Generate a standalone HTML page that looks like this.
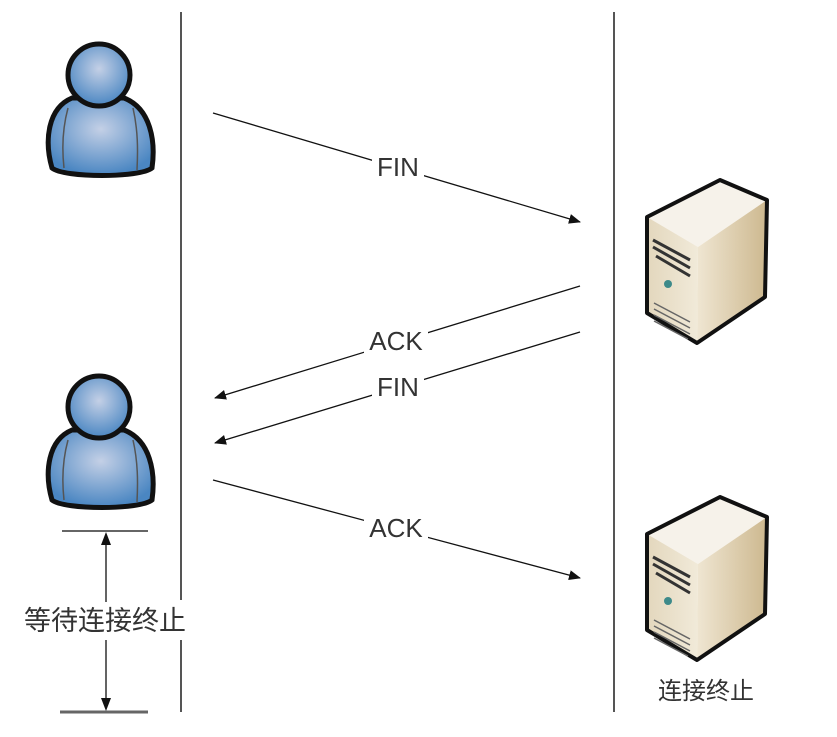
<!DOCTYPE html>
<html><head><meta charset="utf-8"><style>
html,body{margin:0;padding:0;background:#fff;}
svg{display:block;}
text{font-family:"Liberation Sans","Noto Sans CJK SC",sans-serif;fill:#333;}
</style></head><body>
<svg width="837" height="737" viewBox="0 0 837 737" xmlns="http://www.w3.org/2000/svg">
<defs>
<radialGradient id="pb" cx="50%" cy="40%" r="60%">
<stop offset="0" stop-color="#c4d0e6"/><stop offset="1" stop-color="#4a86c2"/></radialGradient>
<linearGradient id="sf" x1="0" y1="0" x2="1" y2="0"><stop offset="0" stop-color="#e3d7bd"/><stop offset="1" stop-color="#f1ead9"/></linearGradient>
<linearGradient id="sr" x1="0" y1="0" x2="1" y2="0"><stop offset="0" stop-color="#efe6d2"/><stop offset="1" stop-color="#cdb88f"/></linearGradient>
<marker id="ar" markerWidth="12" markerHeight="10" refX="11" refY="5" orient="auto" markerUnits="userSpaceOnUse">
<path d="M0,0 L12,5 L0,10 Z" fill="#111"/></marker>
<g id="person">
<path d="M52,168 C44,140 48,108 72,98 L124,98 C150,108 156,140 152,168 C140,178 64,178 52,168 Z" fill="url(#pb)" stroke="#111" stroke-width="5"/>
<path d="M68,108 C62,130 62,150 64,168 M133,108 C138,130 138,150 137,170" stroke="#555" stroke-width="1.5" fill="none"/>
<circle cx="99" cy="75" r="31" fill="url(#pb)" stroke="#111" stroke-width="5"/>
</g>
<g id="server">
<path d="M647,217 L720,180 L767,200 L698,247 Z" fill="#f6f2ea"/>
<path d="M647,217 L698,247 L697,343 L647,313 Z" fill="url(#sf)"/>
<path d="M698,247 L767,200 L765,297 L697,343 Z" fill="url(#sr)"/>
<path d="M647,217 L720,180 L767,200 L765,297 L697,343 L647,313 Z" fill="none" stroke="#111" stroke-width="4" stroke-linejoin="round"/>
<path d="M653,240 L690,260 M653,247 L690,268 M656,256 L690,276" stroke="#333" stroke-width="3"/>
<circle cx="668" cy="284" r="4" fill="#3d8a8a"/>
<path d="M654,303 L690,322 M654,309 L690,328 M654,315 L690,334 M654,321 L688,339" stroke="#666" stroke-width="1.5"/>
</g>
</defs>
<line x1="181" y1="12" x2="181" y2="712" stroke="#555" stroke-width="2"/>
<line x1="614" y1="12" x2="614" y2="712" stroke="#555" stroke-width="2"/>
<use href="#person"/>
<use href="#person" transform="translate(0,332)"/>
<use href="#server"/>
<use href="#server" transform="translate(0,317)"/>
<g stroke="#111" stroke-width="1.3">
<line x1="213" y1="113" x2="580" y2="222" marker-end="url(#ar)"/>
<line x1="580" y1="286" x2="215" y2="398" marker-end="url(#ar)"/>
<line x1="580" y1="332" x2="215" y2="443" marker-end="url(#ar)"/>
<line x1="213" y1="480" x2="580" y2="578" marker-end="url(#ar)"/>
</g>
<g fill="#fff">
<rect x="372" y="152" width="52" height="28"/>
<rect x="364" y="326" width="64" height="28"/>
<rect x="372" y="372" width="52" height="28"/>
<rect x="364" y="513" width="64" height="28"/>
<rect x="18" y="600" width="174" height="40"/>
</g>
<g font-size="26" text-anchor="middle">
<text x="398" y="176">FIN</text>
<text x="396" y="350">ACK</text>
<text x="398" y="396">FIN</text>
<text x="396" y="537">ACK</text>
</g>
<line x1="62" y1="531" x2="148" y2="531" stroke="#666" stroke-width="2"/>
<line x1="60" y1="712" x2="148" y2="712" stroke="#666" stroke-width="3"/>
<line x1="106" y1="545" x2="106" y2="602" stroke="#111" stroke-width="1.3"/>
<line x1="106" y1="640" x2="106" y2="698" stroke="#111" stroke-width="1.3"/>
<path d="M106,532 L101,545 L111,545 Z M106,711 L101,698 L111,698 Z" fill="#111"/>
<text x="105" y="630" font-size="27" text-anchor="middle">等待连接终止</text>
<text x="706" y="699" font-size="24" text-anchor="middle">连接终止</text>
</svg>
</body></html>
